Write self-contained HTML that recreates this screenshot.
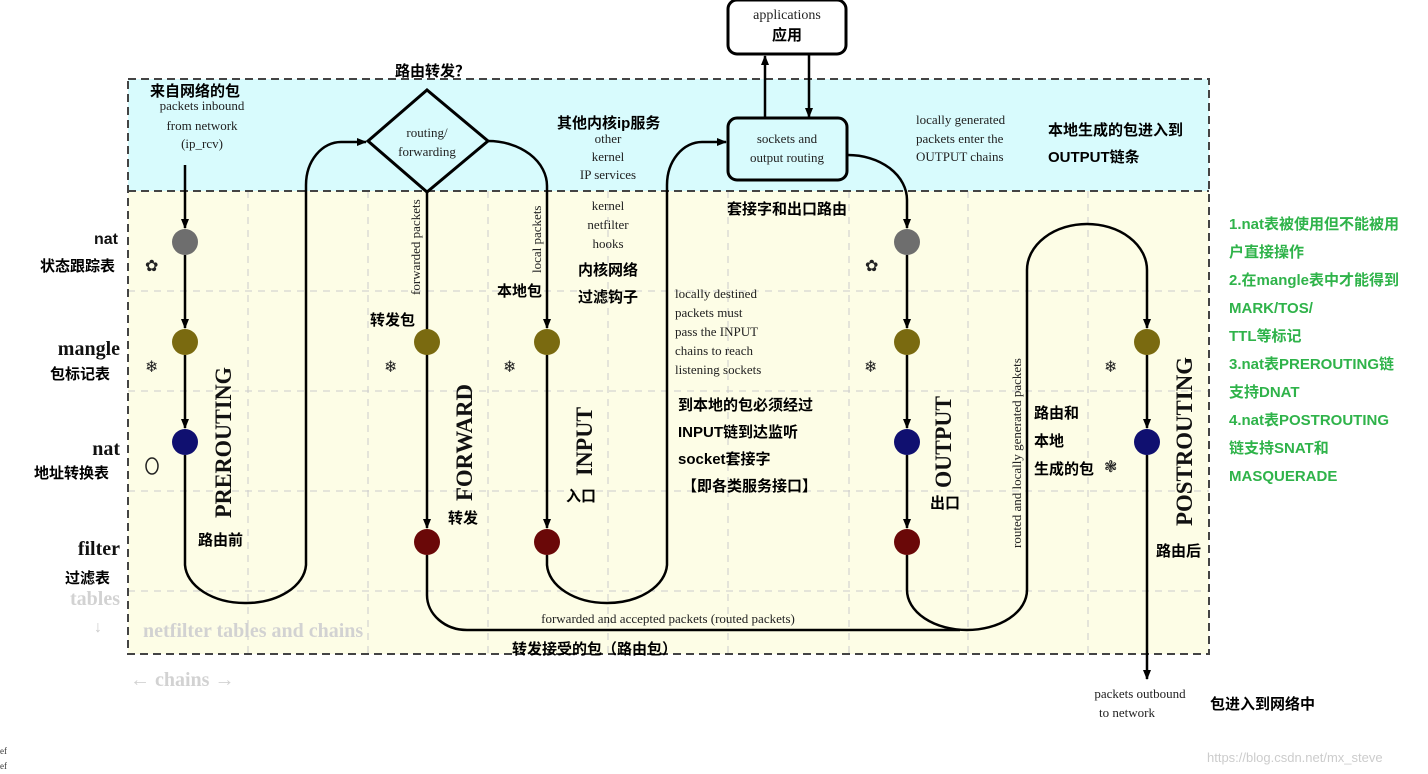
<!DOCTYPE html>
<html><head><meta charset="utf-8"><style>
html,body{margin:0;padding:0;background:#fff;width:1428px;height:774px;overflow:hidden}
svg{display:block}
.s{font-family:"Liberation Serif",serif;font-size:13px;fill:#222}
.c{font-family:"Liberation Sans","Noto Sans CJK SC",sans-serif;font-size:15px;font-weight:bold;fill:#000}
.g{font-family:"Liberation Sans","Noto Sans CJK SC",sans-serif;font-size:15px;font-weight:bold;fill:#2fb34a}
.big{font-family:"Liberation Serif",serif;font-size:23px;font-weight:bold;fill:#111}
.tb{font-family:"Liberation Serif",serif;font-size:20px;font-weight:bold;fill:#111}
.gr{font-family:"Liberation Serif",serif;font-size:20px;font-weight:bold;fill:#d2d2d2}
</style></head><body>
<svg width="1428" height="774" viewBox="0 0 1428 774" xmlns="http://www.w3.org/2000/svg">
<defs><marker id="a" markerWidth="10" markerHeight="10" refX="9" refY="5" orient="auto" markerUnits="userSpaceOnUse"><path d="M0,1 L10,5 L0,9 z" fill="#000"/></marker></defs>
<rect x="128" y="79" width="1081" height="112" fill="#d8fbfd"/>
<rect x="128" y="191" width="1081" height="463" fill="#fdfde6"/>
<g stroke="#ccc" stroke-width="1" stroke-dasharray="7,6">
<line x1="128" y1="291" x2="1209" y2="291"/><line x1="128" y1="391" x2="1209" y2="391"/>
<line x1="128" y1="491" x2="1209" y2="491"/><line x1="128" y1="591" x2="1209" y2="591"/>
<line x1="248" y1="191" x2="248" y2="654"/><line x1="368" y1="191" x2="368" y2="654"/>
<line x1="488" y1="191" x2="488" y2="654"/><line x1="608" y1="191" x2="608" y2="654"/>
<line x1="728" y1="191" x2="728" y2="654"/><line x1="849" y1="191" x2="849" y2="654"/>
<line x1="968" y1="191" x2="968" y2="654"/><line x1="1088" y1="191" x2="1088" y2="654"/>
</g>
<g stroke="#444" stroke-width="2" stroke-dasharray="8,5" fill="none">
<rect x="128" y="79" width="1081" height="575"/>
<line x1="128" y1="191" x2="1209" y2="191"/>
</g>
<g stroke="#000" stroke-width="2.5" fill="none">
<line x1="185" y1="165" x2="185" y2="228" marker-end="url(#a)"/>
<line x1="185" y1="255" x2="185" y2="328" marker-end="url(#a)"/>
<line x1="185" y1="355" x2="185" y2="428" marker-end="url(#a)"/>
<path d="M185,455 L185,565 A60,40 0 0 0 245,603 A60,40 0 0 0 306,565 L306,185 A35,43 0 0 1 341,142 L366,142" marker-end="url(#a)"/>
<path d="M427,191 L427,528" marker-end="url(#a)"/>
<path d="M427,555 L427,595 A40,35 0 0 0 467,630 L960,630"/>
<path d="M488,141 A59,45 0 0 1 547,186 L547,328" marker-end="url(#a)"/>
<line x1="547" y1="355" x2="547" y2="528" marker-end="url(#a)"/>
<path d="M547,555 L547,565 A60,40 0 0 0 607,603 A60,40 0 0 0 667,565 L667,185 A35,43 0 0 1 702,142 L726,142" marker-end="url(#a)"/>
<path d="M848,155 A59,45 0 0 1 907,200 L907,228" marker-end="url(#a)"/>
<line x1="907" y1="255" x2="907" y2="328" marker-end="url(#a)"/>
<line x1="907" y1="355" x2="907" y2="428" marker-end="url(#a)"/>
<line x1="907" y1="455" x2="907" y2="528" marker-end="url(#a)"/>
<path d="M907,555 L907,590 A60,40 0 0 0 967,630 A60,40 0 0 0 1027,590 L1027,270 A60,46 0 0 1 1087,224 A60,46 0 0 1 1147,270 L1147,328" marker-end="url(#a)"/>
<line x1="1147" y1="355" x2="1147" y2="428" marker-end="url(#a)"/>
<line x1="1147" y1="455" x2="1147" y2="679" marker-end="url(#a)"/>
<line x1="765" y1="118" x2="765" y2="56" marker-end="url(#a)"/>
<line x1="809" y1="55" x2="809" y2="117" marker-end="url(#a)"/>
</g>
<polygon points="368,141 427,90 488,141 427,192" fill="#d8fbfd" stroke="#000" stroke-width="3"/>
<rect x="728" y="0" width="118" height="54" rx="9" fill="#fff" stroke="#000" stroke-width="3"/>
<rect x="728" y="118" width="119" height="62" rx="9" fill="#d8fbfd" stroke="#000" stroke-width="3"/>
<g>
<circle cx="185" cy="242" r="13" fill="#6e6e6e"/><circle cx="185" cy="342" r="13" fill="#7a6a10"/><circle cx="185" cy="442" r="13" fill="#101070"/>
<circle cx="427" cy="342" r="13" fill="#7a6a10"/><circle cx="427" cy="542" r="13" fill="#6a0808"/>
<circle cx="547" cy="342" r="13" fill="#7a6a10"/><circle cx="547" cy="542" r="13" fill="#6a0808"/>
<circle cx="907" cy="242" r="13" fill="#6e6e6e"/><circle cx="907" cy="342" r="13" fill="#7a6a10"/><circle cx="907" cy="442" r="13" fill="#101070"/><circle cx="907" cy="542" r="13" fill="#6a0808"/>
<circle cx="1147" cy="342" r="13" fill="#7a6a10"/><circle cx="1147" cy="442" r="13" fill="#101070"/>
</g>
<g font-family="DejaVu Sans" font-size="16" fill="#222">
<text x="145" y="271">✿</text><text x="145" y="372">❄</text><text x="384" y="372">❄</text><text x="503" y="372">❄</text>
<text x="865" y="271">✿</text><text x="864" y="372">❄</text><text x="1104" y="372">❄</text><text x="1104" y="472">❃</text>
</g>
<ellipse cx="152" cy="466" rx="6" ry="8" fill="none" stroke="#222" stroke-width="1.5"/>
<g class="s" text-anchor="middle">
<text x="787" y="19" font-size="14">applications</text>
<text x="787" y="143">sockets and</text><text x="787" y="162">output routing</text>
<text x="427" y="137">routing/</text><text x="427" y="156">forwarding</text>
<text x="202" y="110">packets inbound</text><text x="202" y="130">from network</text><text x="202" y="148">(ip_rcv)</text>
<text x="608" y="143">other</text><text x="608" y="161">kernel</text><text x="608" y="179">IP services</text>
<text x="608" y="210">kernel</text><text x="608" y="229">netfilter</text><text x="608" y="248">hooks</text>
<text x="1140" y="698">packets outbound</text><text x="1127" y="717">to network</text>
<text x="668" y="623">forwarded and accepted packets (routed packets)</text>
</g>
<g class="s">
<text x="916" y="124">locally generated</text><text x="916" y="143">packets enter the</text><text x="916" y="161">OUTPUT chains</text>
<text x="675" y="298">locally destined</text><text x="675" y="317">packets must</text><text x="675" y="336">pass the INPUT</text><text x="675" y="355">chains to reach</text><text x="675" y="374">listening sockets</text>
<text transform="translate(420,295) rotate(-90)">forwarded packets</text>
<text transform="translate(541,273) rotate(-90)">local packets</text>
<text transform="translate(1021,548) rotate(-90)">routed and locally generated packets</text>
</g>
<g class="big">
<text transform="translate(231,518) rotate(-90)" textLength="151" lengthAdjust="spacingAndGlyphs">PREROUTING</text>
<text transform="translate(472,501) rotate(-90)" textLength="117" lengthAdjust="spacingAndGlyphs">FORWARD</text>
<text transform="translate(592,476) rotate(-90)" textLength="69" lengthAdjust="spacingAndGlyphs">INPUT</text>
<text transform="translate(951,488) rotate(-90)" textLength="92" lengthAdjust="spacingAndGlyphs">OUTPUT</text>
<text transform="translate(1192,526) rotate(-90)" textLength="169" lengthAdjust="spacingAndGlyphs">POSTROUTING</text>
</g>
<g class="tb" text-anchor="end">
<text x="118" y="244" font-family="Liberation Sans" font-size="16">nat</text>
<text x="120" y="355">mangle</text>
<text x="120" y="455">nat</text>
<text x="120" y="555">filter</text>
</g>
<text x="120" y="605" class="gr" text-anchor="end">tables</text>
<text x="143" y="637" class="gr">netfilter tables and chains</text>
<text x="130" y="686" class="gr">← chains →</text>
<text x="94" y="632" fill="#ccc" font-size="16">↓</text>
<g class="c">
<text x="150" y="96">来自网络的包</text>
<text x="395" y="76">路由转发？</text>
<text x="557" y="128">其他内核ip服务</text>
<text x="40" y="271">状态跟踪表</text>
<text x="50" y="379">包标记表</text>
<text x="34" y="478">地址转换表</text>
<text x="65" y="583">过滤表</text>
<text x="198" y="545">路由前</text>
<text x="370" y="325">转发包</text>
<text x="448" y="523">转发</text>
<text x="497" y="296">本地包</text>
<text x="578" y="275">内核网络</text>
<text x="578" y="302">过滤钩子</text>
<text x="566" y="501">入口</text>
<text x="678" y="410">到本地的包必须经过</text>
<text x="678" y="437">INPUT链到达监听</text>
<text x="678" y="464">socket套接字</text>
<text x="682" y="491">【即各类服务接口】</text>
<text x="727" y="214">套接字和出口路由</text>
<text x="772" y="40">应用</text>
<text x="1048" y="135">本地生成的包进入到</text>
<text x="1048" y="162">OUTPUT链条</text>
<text x="930" y="508">出口</text>
<text x="1034" y="418">路由和</text>
<text x="1034" y="446">本地</text>
<text x="1034" y="474">生成的包</text>
<text x="1156" y="556">路由后</text>
<text x="512" y="654">转发接受的包（路由包）</text>
<text x="1210" y="709">包进入到网络中</text>
</g>
<g class="g">
<text x="1229" y="229">1.nat表被使用但不能被用</text>
<text x="1229" y="257">户直接操作</text>
<text x="1229" y="285">2.在mangle表中才能得到</text>
<text x="1229" y="313">MARK/TOS/</text>
<text x="1229" y="341">TTL等标记</text>
<text x="1229" y="369">3.nat表PREROUTING链</text>
<text x="1229" y="397">支持DNAT</text>
<text x="1229" y="425">4.nat表POSTROUTING</text>
<text x="1229" y="453">链支持SNAT和</text>
<text x="1229" y="481">MASQUERADE</text>
</g>
<text x="1207" y="762" font-family="Liberation Sans" font-size="13" fill="#ccc">https://blog.csdn.net/mx_steve</text>
<text x="0" y="754" font-family="Liberation Serif" font-size="9" fill="#333">ef</text>
<text x="0" y="769" font-family="Liberation Serif" font-size="9" fill="#333">ef</text>
</svg>
</body></html>
